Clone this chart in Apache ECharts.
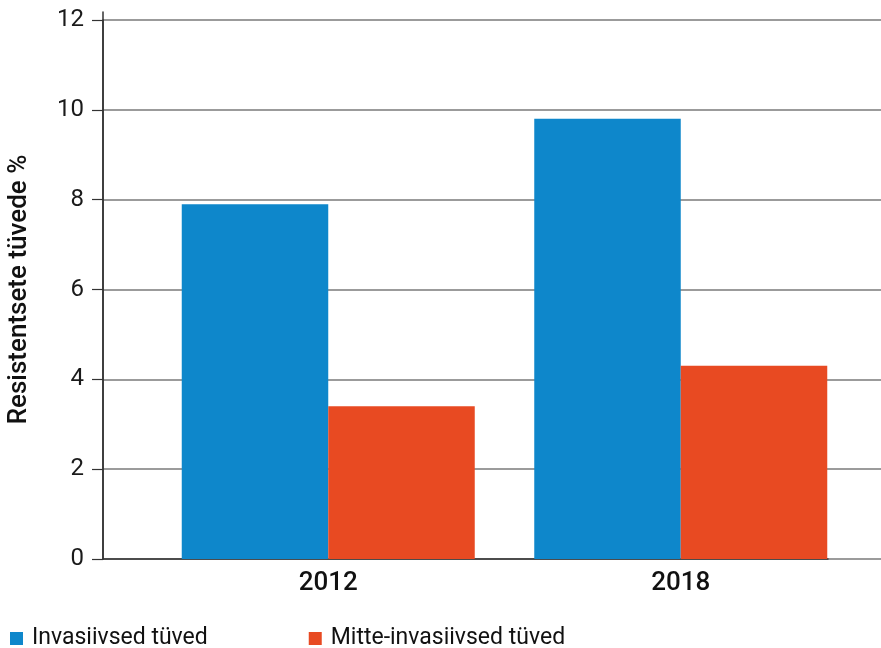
<!DOCTYPE html>
<html><head><meta charset="utf-8">
<script src="https://cdn.jsdelivr.net/npm/echarts@6/dist/echarts.min.js"></script>
<style>html,body{margin:0;padding:0;background:#fff}#c{width:881px;height:648px}</style>
</head><body><div id="c"></div>
<script>
const categories = ['2012', '2018'];
const seriesNames = ['Invasiivsed tüved', 'Mitte-invasiivsed tüved'];
const invasive = [7.9, 9.8];
const nonInvasive = [3.4, 4.3];
const yTicks = [0, 2, 4, 6, 8, 10, 12];
const yTitle = 'Resistentsete tüvede %';

const FONT = 'Roboto';
const chart = echarts.init(document.getElementById('c'), null, {renderer: 'canvas'});
const yMin = yTicks[0], yMax = yTicks[yTicks.length - 1], yStep = yTicks[1] - yTicks[0];
const g = (o) => Object.assign({containLabel: false, outerBoundsMode: 'none'}, o);

chart.setOption({
  animation: false,
  textStyle: {fontFamily: FONT},
  grid: [
    g({left: 103, right: 0, top: 20, bottom: 89}),
    g({left: 103, right: 0, top: 12, bottom: 89}),
    g({left: 152, right: 24, top: 20, bottom: 89}),
    g({left: 103, width: 725, top: 20, bottom: 89})
  ],
  xAxis: [
    {gridIndex: 0, type: 'category', data: categories, show: false},
    {gridIndex: 1, type: 'category', data: categories, show: false},
    {gridIndex: 2, type: 'category', data: categories,
      axisLine: {show: false}, axisTick: {show: false},
      axisLabel: {fontFamily: FONT, fontSize: 26, fontWeight: 500, color: '#111', margin: 11}},
    {gridIndex: 3, type: 'category', data: categories,
      axisLine: {show: true, lineStyle: {color: '#333', width: 1.5}},
      axisTick: {show: false}, axisLabel: {show: false}}
  ],
  yAxis: [
    {gridIndex: 0, type: 'value', min: yMin, max: yMax, interval: yStep,
      name: yTitle, nameLocation: 'middle', nameGap: 71,
      nameTextStyle: {fontFamily: FONT, fontSize: 26, fontWeight: 500, color: '#111'},
      axisLine: {show: true, lineStyle: {color: '#333', width: 1.5}},
      axisTick: {show: true, inside: false, length: 11, lineStyle: {color: '#333', width: 1.2}},
      axisLabel: {fontFamily: FONT, fontSize: 24, color: '#1a1a1a', margin: 19},
      splitLine: {show: true, lineStyle: {color: '#7a7a7a', width: 1.5}}},
    {gridIndex: 1, type: 'value', min: 0, max: 1, show: true,
      axisLine: {show: true, lineStyle: {color: '#333', width: 1.5}},
      axisTick: {show: false}, axisLabel: {show: false}, splitLine: {show: false}},
    {gridIndex: 2, type: 'value', min: yMin, max: yMax, interval: yStep, show: false, splitLine: {show: false}},
    {gridIndex: 3, type: 'value', min: yMin, max: yMax, show: false, splitLine: {show: false}}
  ],
  legend: {
    left: 10, top: 627, padding: 0, itemWidth: 13, itemHeight: 13, itemGap: 101, icon: 'rect',
    textStyle: {fontFamily: FONT, fontSize: 23, color: '#111', padding: [0, 0, 0, 4]},
    data: seriesNames
  },
  series: [
    {name: seriesNames[0], type: 'bar', xAxisIndex: 2, yAxisIndex: 2, data: invasive,
      barWidth: 146.5, barGap: '0%', itemStyle: {color: '#0E87CB'}, z: 3},
    {name: seriesNames[1], type: 'bar', xAxisIndex: 2, yAxisIndex: 2, data: nonInvasive,
      barWidth: 146.5, barGap: '0%', itemStyle: {color: '#E84A22'}, z: 3}
  ]
});
</script>
</body></html>
